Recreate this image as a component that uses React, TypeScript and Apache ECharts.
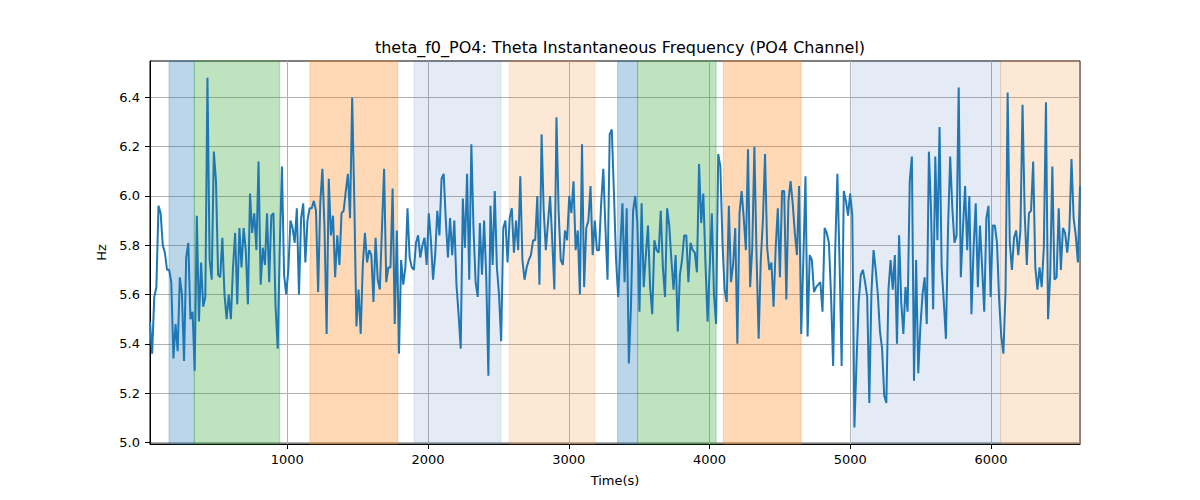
import { useEffect, useRef } from 'react';
import * as echarts from 'echarts';

// time axis range (seconds) and tick positions
const T_START = 24;
const T_END = 6633;
const xTicks = [1000, 2000, 3000, 4000, 5000, 6000];
const yTicks = [5.0, 5.2, 5.4, 5.6, 5.8, 6.0, 6.2, 6.4];

const hzPart1 = [5.49, 5.36, 5.59, 5.63, 5.96, 5.93, 5.80, 5.77, 5.70, 5.70, 5.65, 5.34, 5.48, 5.37, 5.67, 5.60, 5.33, 5.75, 5.81, 5.50, 5.53, 5.29, 5.92, 5.49, 5.73, 5.55, 5.59, 6.48, 5.74, 5.66, 6.18, 6.06, 5.68, 5.67, 5.83, 5.60, 5.50, 5.60, 5.50, 5.71, 5.85, 5.56, 5.87, 5.71, 5.87, 5.78, 5.56, 6.01, 5.85, 5.93, 5.78, 6.14, 5.64, 5.79, 5.72, 5.93];
const hzPart2 = [5.65, 5.92, 5.93, 5.55, 5.38, 5.80, 6.12, 5.68, 5.60, 5.70, 5.90, 5.87, 5.81, 5.95, 5.60, 5.91, 5.97, 5.73, 5.90, 5.95, 5.95, 5.98, 5.94, 5.61, 5.97, 6.11, 5.87, 5.44, 6.07, 5.84, 5.92, 5.67, 5.84, 5.72, 5.93, 5.94, 6.02, 6.09, 5.91, 6.40, 5.98, 5.47, 5.62, 5.44, 5.72, 5.85, 5.73, 5.78, 5.76, 5.57, 5.83, 5.66, 5.62, 5.87, 6.11];
const hzPart3 = [5.65, 5.71, 5.71, 6.03, 5.48, 5.86, 5.36, 5.74, 5.64, 5.71, 5.95, 5.75, 5.71, 5.70, 5.81, 5.84, 5.75, 5.80, 5.83, 5.72, 5.93, 5.82, 5.66, 5.76, 5.94, 5.84, 6.07, 6.09, 5.90, 5.75, 5.91, 5.76, 5.90, 5.64, 5.52, 5.38, 5.99, 5.79, 6.09, 5.66, 6.21, 5.87, 5.65, 5.59, 5.89, 5.68, 5.90, 5.67, 5.27, 5.96, 5.72, 6.02, 5.71, 5.60, 5.41, 5.87, 5.90];
const hzPart4 = [5.73, 5.91, 5.95, 5.77, 5.90, 5.78, 6.08, 5.74, 5.66, 5.71, 5.74, 5.76, 5.82, 5.82, 6.00, 5.64, 6.25, 5.94, 5.78, 5.89, 6.00, 5.82, 5.62, 6.32, 5.94, 5.74, 5.72, 5.86, 5.82, 6.00, 5.93, 6.06, 5.78, 5.86, 5.60, 6.21, 5.63, 5.87, 5.90, 6.04, 5.76, 5.90, 5.78, 5.78, 5.97, 6.11, 5.87, 5.66, 6.25, 6.27, 6.01, 5.74, 5.59, 5.79, 5.97, 5.65, 5.95];
const hzPart5 = [5.32, 5.55, 5.94, 6.00, 5.89, 5.53, 5.97, 5.63, 5.76, 5.88, 5.63, 5.52, 5.82, 5.78, 5.77, 5.94, 5.71, 5.59, 5.95, 5.88, 5.74, 5.62, 5.76, 5.45, 5.68, 5.74, 5.84, 5.84, 5.65, 5.81, 5.78, 5.77, 5.69, 6.13, 5.89, 6.01, 5.73, 5.49, 5.71, 5.93, 5.60, 5.48, 6.17, 6.12, 5.81, 5.62, 5.57, 5.96, 5.65, 5.72, 5.87, 5.40, 5.93, 6.02, 5.91, 5.78, 6.19];
const hzPart6 = [5.63, 5.79, 6.20, 5.76, 5.42, 5.74, 5.90, 6.17, 5.79, 5.70, 5.73, 5.55, 5.79, 5.95, 5.67, 6.02, 6.02, 5.58, 5.98, 6.06, 5.97, 5.85, 5.76, 6.04, 5.44, 5.74, 6.08, 5.43, 5.76, 5.74, 5.61, 5.63, 5.64, 5.65, 5.53, 5.87, 5.85, 5.81, 5.60, 5.31, 5.79, 6.09, 5.74, 5.31, 6.02, 5.98, 5.92, 6.01, 5.92, 5.06, 5.33, 5.57, 5.68, 5.70, 5.65, 5.59];
const hzPart7 = [5.16, 5.61, 5.78, 5.70, 5.60, 5.45, 5.38, 5.19, 5.16, 5.62, 5.74, 5.62, 5.76, 5.40, 5.84, 5.57, 5.44, 5.63, 5.53, 6.06, 6.16, 5.25, 5.74, 5.28, 5.47, 5.60, 5.67, 5.48, 6.18, 5.94, 5.54, 6.16, 5.82, 6.28, 5.71, 5.57, 5.42, 5.87, 6.16, 5.95, 5.81, 5.84, 6.44, 5.67, 5.87, 6.04, 5.78, 6.00, 5.52, 5.79, 5.97, 5.63, 5.88, 5.71, 5.53, 5.91, 5.96];
const hzPart8 = [5.59, 5.88, 5.88, 5.81, 5.58, 5.43, 5.36, 5.61, 6.42, 5.81, 5.70, 5.83, 5.86, 5.76, 5.86, 6.37, 5.93, 5.72, 5.93, 5.94, 6.14, 5.71, 5.62, 5.71, 5.63, 5.79, 6.38, 5.50, 5.68, 6.12, 5.66, 5.67, 5.95, 5.70, 5.87, 5.85, 5.77, 5.86, 6.15, 5.91, 5.84, 5.73, 6.04];

// shaded epochs: [start, end, kind]
const spans: [number, number, string][] = [
  [159, 339, 'blue'],
  [339, 946, 'green'],
  [1161, 1785, 'orange'],
  [1901, 2518, 'lightblue'],
  [2577, 3186, 'lightorange'],
  [3347, 3489, 'blue'],
  [3489, 4047, 'green'],
  [4099, 4651, 'orange'],
  [5014, 6069, 'lightblue'],
  [6069, 6633, 'lightorange'],
];

const spanColors: Record<string, string> = {
  blue: 'rgba(31,119,180,0.3)',
  green: 'rgba(44,160,44,0.3)',
  orange: 'rgba(255,127,14,0.3)',
  lightblue: 'rgba(75,122,188,0.15)',
  lightorange: 'rgba(245,140,50,0.2)',
};

const FONT = 'DejaVu Sans';

export default function App() {
  const chartRef = useRef<HTMLDivElement>(null);

  useEffect(() => {
    if (!chartRef.current) return;
    document.body.style.margin = '0';

    const chart = echarts.init(chartRef.current, undefined, { renderer: 'svg' });

    const hz = [...hzPart1, ...hzPart2, ...hzPart3, ...hzPart4, ...hzPart5, ...hzPart6, ...hzPart7, ...hzPart8];
    const step = (T_END - T_START) / (hz.length - 1);
    const points = hz.map((v, i) => [T_START + i * step, v]);

    const axisText = { color: '#000', fontSize: 13, fontFamily: FONT };

    const option: echarts.EChartsOption = {
      animation: false,
      backgroundColor: '#fff',
      title: {
        text: 'theta_f0_PO4: Theta Instantaneous Frequency (PO4 Channel)',
        left: 615,
        top: 34,
        textAlign: 'center',
        textStyle: { color: '#000', fontSize: 16, fontWeight: 'normal', fontFamily: FONT },
      },
      grid: {
        left: 150,
        right: 120,
        top: 61,
        bottom: 56,
        show: true,
        borderColor: '#000',
        borderWidth: 1,
        backgroundColor: 'transparent',
      },
      xAxis: {
        type: 'value',
        min: T_START,
        max: T_END,
        name: 'Time(s)',
        nameLocation: 'middle',
        nameGap: 30,
        nameTextStyle: axisText,
        axisLine: { show: true, onZero: false, lineStyle: { color: '#000', width: 1 } },
        axisTick: { show: true, length: 5, customValues: xTicks, lineStyle: { color: '#000' } },
        axisLabel: { ...axisText, margin: 9, customValues: xTicks, formatter: (v: number) => String(v) },
        splitLine: { show: true, lineStyle: { color: '#b0b0b0', width: 1 } },
      },
      yAxis: {
        type: 'value',
        min: 4.993,
        max: 6.548,
        name: 'Hz',
        nameLocation: 'middle',
        nameGap: 33,
        nameTextStyle: axisText,
        axisLine: { show: true, onZero: false, lineStyle: { color: '#000', width: 1 } },
        axisTick: { show: true, length: 5, customValues: yTicks, lineStyle: { color: '#000' } },
        axisLabel: { ...axisText, margin: 10, customValues: yTicks, formatter: (v: number) => v.toFixed(1) },
        splitLine: { show: true, lineStyle: { color: '#b0b0b0', width: 1 } },
      },
      series: [
        {
          type: 'line',
          data: points,
          showSymbol: false,
          symbol: 'none',
          lineStyle: { color: '#1f77b4', width: 2 },
          z: 3,
          markArea: {
            silent: true,
            data: spans.map(([s, e, kind]) => [
              { xAxis: s, itemStyle: { color: spanColors[kind], borderColor: spanColors[kind], borderWidth: 1 } },
              { xAxis: e },
            ]) as any,
          },
        },
      ],
    };

    chart.setOption(option);

    return () => {
      chart.dispose();
    };
  }, []);

  return <div ref={chartRef} style={{ width: '1200px', height: '500px' }} />;
}
